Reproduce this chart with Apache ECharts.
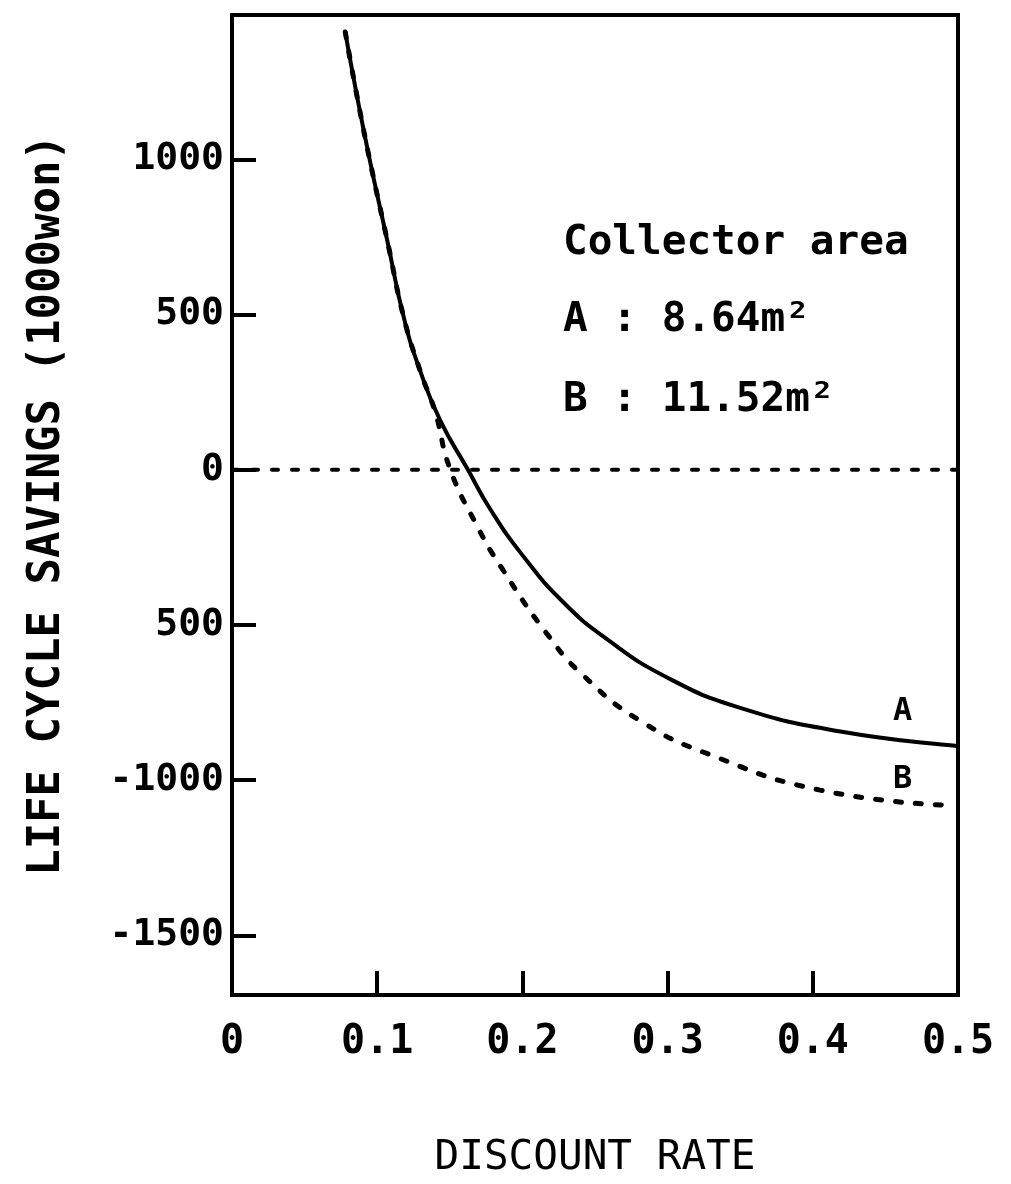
<!DOCTYPE html>
<html>
<head>
<meta charset="utf-8">
<script src="https://cdn.jsdelivr.net/npm/echarts@6/dist/echarts.min.js"></script>
<style>
html,body{margin:0;padding:0;background:#fff;}
#c{width:1011px;height:1184px;}
</style>
</head>
<body>
<div id="c"></div>
<script>
// ---- data ----
const seriesAName = 'A';
const seriesBName = 'B';
const curveA = [
  [0.078, 1410], [0.0855, 1218], [0.095, 995], [0.107, 737], [0.1185, 487],
  [0.1295, 320], [0.1433, 160], [0.1625, 0], [0.178, -128], [0.200, -275],
  [0.228, -426], [0.258, -545], [0.300, -670], [0.350, -767], [0.419, -843],
  [0.500, -890]
];
const curveB = [
  [0.078, 1410], [0.0855, 1218], [0.095, 995], [0.107, 737], [0.1185, 487],
  [0.1295, 320], [0.140, 185], [0.150, 5], [0.169, -183], [0.185, -311],
  [0.217, -529], [0.242, -663], [0.282, -811], [0.331, -921], [0.405, -1032],
  [0.490, -1080]
];
const zeroLine = [[0, 0], [0.5, 0]];
const xTickValues = [0, 0.1, 0.2, 0.3, 0.4, 0.5];
const xTickLabels = ['0', '0.1', '0.2', '0.3', '0.4', '0.5'];
const yTickValues = [-1500, -1000, -500, 0, 500, 1000];
const yTickLabels = ['-1500', '-1000', '500', '0', '500', '1000'];
const legendLines = ['Collector area', 'A : 8.64m²', 'B : 11.52m²'];
const xTitle = 'DISCOUNT RATE';
const yTitle = 'LIFE CYCLE SAVINGS (1000won)';

const FONT = '"DejaVu Sans Mono", monospace';
const chart = echarts.init(document.getElementById('c'), null, {renderer: 'canvas'});

const option = {
  backgroundColor: '#fff',
  animation: false,
  grid: {
    left: 232, right: 53, top: 15, bottom: 184,
    show: true, borderColor: '#000', borderWidth: 4, backgroundColor: 'transparent'
  },
  xAxis: {
    type: 'value', min: 0, max: 0.5,
    name: xTitle, nameLocation: 'middle', nameGap: 143,
    nameTextStyle: {fontFamily: FONT, fontSize: 41, color: '#000'},
    axisLine: {show: true, onZero: false, lineStyle: {color: '#000', width: 4}},
    axisTick: {show: true, inside: true, length: 24, lineStyle: {color: '#000', width: 4},
      customValues: xTickValues.slice(1, 5)},
    axisLabel: {
      customValues: xTickValues,
      margin: 28, fontFamily: FONT, fontSize: 40, color: '#000', fontWeight: 'bold',
      formatter: v => { const i = xTickValues.findIndex(t => Math.abs(t - v) < 1e-9); return i >= 0 ? xTickLabels[i] : ''; }
    },
    splitLine: {show: false}
  },
  yAxis: {
    type: 'value', min: -1692, max: 1465,
    name: yTitle, nameLocation: 'middle', nameRotate: 90, nameGap: 162,
    nameTextStyle: {fontFamily: FONT, fontSize: 44, color: '#000', fontWeight: 'bold'},
    axisLine: {show: true, onZero: false, lineStyle: {color: '#000', width: 4}},
    axisTick: {show: true, inside: true, length: 24, lineStyle: {color: '#000', width: 4},
      customValues: yTickValues},
    axisLabel: {
      customValues: yTickValues,
      margin: 8, fontFamily: FONT, fontSize: 38, color: '#000', fontWeight: 'bold',
      formatter: v => { const i = yTickValues.indexOf(v); return i >= 0 ? yTickLabels[i] : ''; }
    },
    splitLine: {show: false}
  },
  graphic: [
    {type: 'text', left: 563, top: 223, style: {text: legendLines[0], font: 'bold 41px ' + FONT, fill: '#000'}},
    {type: 'text', left: 563, top: 300, style: {text: legendLines[1], font: 'bold 41px ' + FONT, fill: '#000'}},
    {type: 'text', left: 563, top: 380, style: {text: legendLines[2], font: 'bold 41px ' + FONT, fill: '#000'}},
    {type: 'text', left: 893, top: 696, style: {text: seriesAName, font: 'bold 32px ' + FONT, fill: '#000'}},
    {type: 'text', left: 893, top: 764, style: {text: seriesBName, font: 'bold 32px ' + FONT, fill: '#000'}}
  ],
  series: [
    {
      name: 'zero', type: 'line', data: zeroLine, symbol: 'none', silent: true,
      lineStyle: {color: '#000', width: 4, type: [6, 14], cap: 'round'}
    },
    {
      name: seriesAName, type: 'line', data: curveA, symbol: 'none',
      smooth: 0.5,
      lineStyle: {color: '#000', width: 4}
    },
    {
      name: seriesBName, type: 'line', data: curveB, symbol: 'none',
      smooth: 0.5,
      lineStyle: {color: '#000', width: 5, type: [6, 14], cap: 'round'}
    }
  ]
};
chart.setOption(option);
</script>
</body>
</html>
